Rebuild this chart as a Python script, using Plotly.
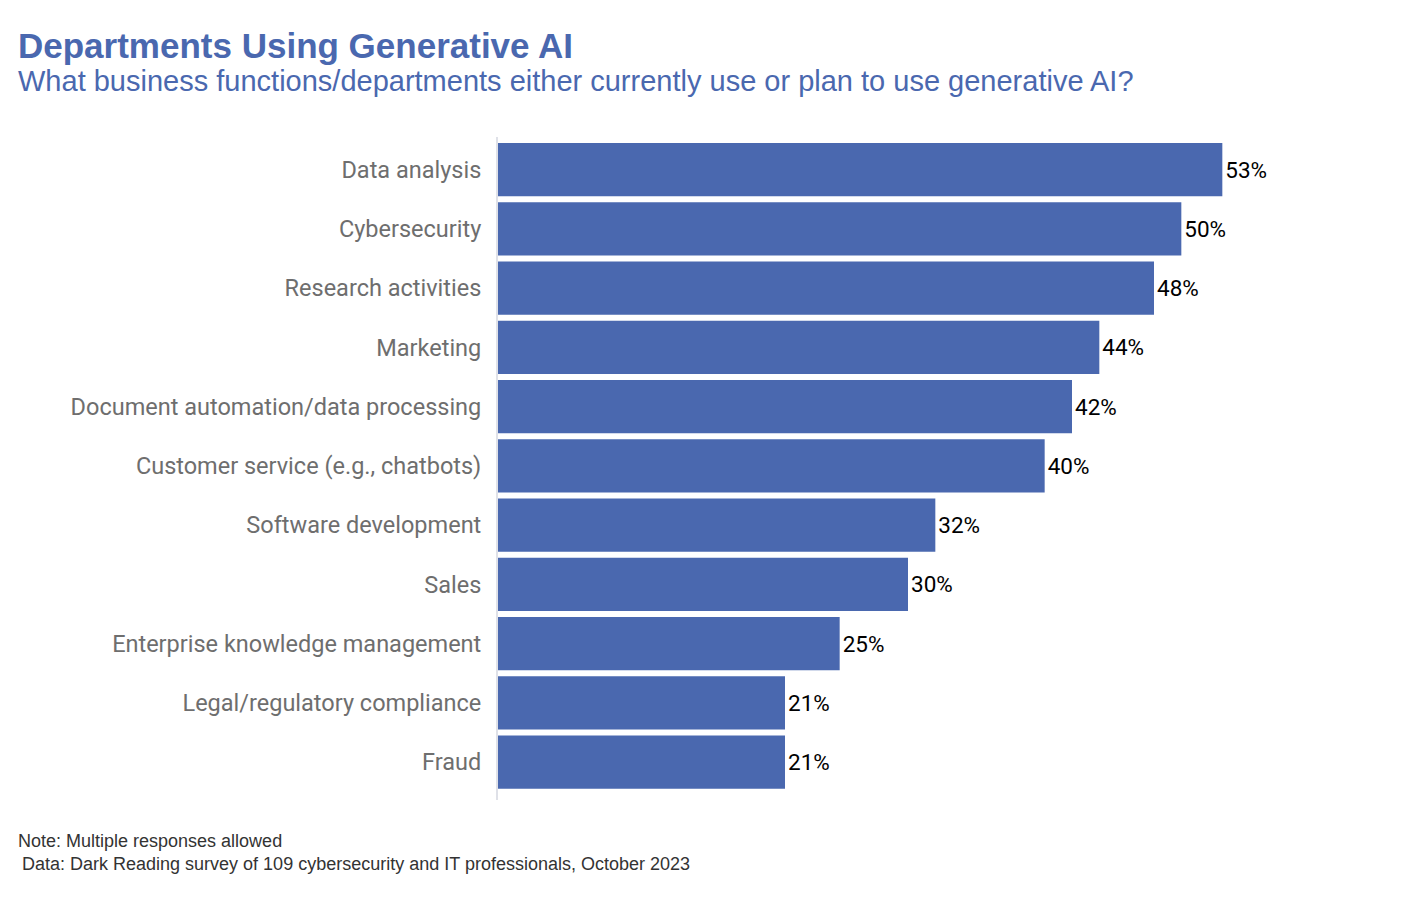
import plotly.graph_objects as go

departments = [
    "Data analysis",
    "Cybersecurity",
    "Research activities",
    "Marketing",
    "Document automation/data processing",
    "Customer service (e.g., chatbots)",
    "Software development",
    "Sales",
    "Enterprise knowledge management",
    "Legal/regulatory compliance",
    "Fraud",
]
shares = [53, 50, 48, 44, 42, 40, 32, 30, 25, 21, 21]
share_labels = [f"{v}%" for v in shares]

BLUE = "#4a68af"

# bottom to top for plotly's y axis
cats = departments[::-1]
vals = shares[::-1]
labs = share_labels[::-1]

# plot area in figure pixels
L, T, W, H = 490, 129, 820, 663


def px_x(x):
    return (x - L) / W


def px_y(y):
    return (T + H - y) / H


fig = go.Figure()
fig.add_trace(go.Bar(
    x=vals, y=cats, orientation="h",
    marker=dict(color=BLUE, line=dict(width=0)),
    text=labs, textposition="outside", cliponaxis=False,
    textfont=dict(family="Roboto", size=22.5, color="#000000"),
    hoverinfo="skip",
))

fig.update_layout(
    width=1426, height=918,
    margin=dict(l=L, r=1426 - L - W, t=T, b=918 - T - H),
    paper_bgcolor="white", plot_bgcolor="white",
    bargap=0.1,
    showlegend=False,
    font=dict(family="Roboto"),
)
fig.update_xaxes(range=[0, 60], visible=False, fixedrange=True)
fig.update_yaxes(
    categoryorder="array", categoryarray=cats,
    range=[-0.64, 10.55],
    showline=True, linecolor="#dfe1e8", linewidth=2,
    showgrid=False, ticks="", ticklabelstandoff=10,
    tickfont=dict(family="Roboto", size=23.5, color="#6e6e6e"),
)

title_font = "Liberation Sans, Arial, sans-serif"
fig.add_annotation(
    text="<b>Departments Using Generative AI</b>",
    xref="paper", yref="paper", x=px_x(8), y=px_y(37),
    xanchor="left", yanchor="middle", showarrow=False,
    font=dict(family=title_font, size=35, color=BLUE),
)
fig.add_annotation(
    text="What business functions/departments either currently use or plan to use generative AI?",
    xref="paper", yref="paper", x=px_x(8), y=px_y(73),
    xanchor="left", yanchor="middle", showarrow=False,
    font=dict(family=title_font, size=29, color=BLUE),
)
fig.add_annotation(
    text="Note: Multiple responses allowed",
    xref="paper", yref="paper", x=px_x(8), y=px_y(833),
    xanchor="left", yanchor="middle", showarrow=False,
    font=dict(family=title_font, size=18, color="#333333"),
)
fig.add_annotation(
    text="Data: Dark Reading survey of 109 cybersecurity and IT professionals, October 2023",
    xref="paper", yref="paper", x=px_x(12), y=px_y(856),
    xanchor="left", yanchor="middle", showarrow=False,
    font=dict(family=title_font, size=18, color="#333333"),
)

fig.write_html("out.html")
